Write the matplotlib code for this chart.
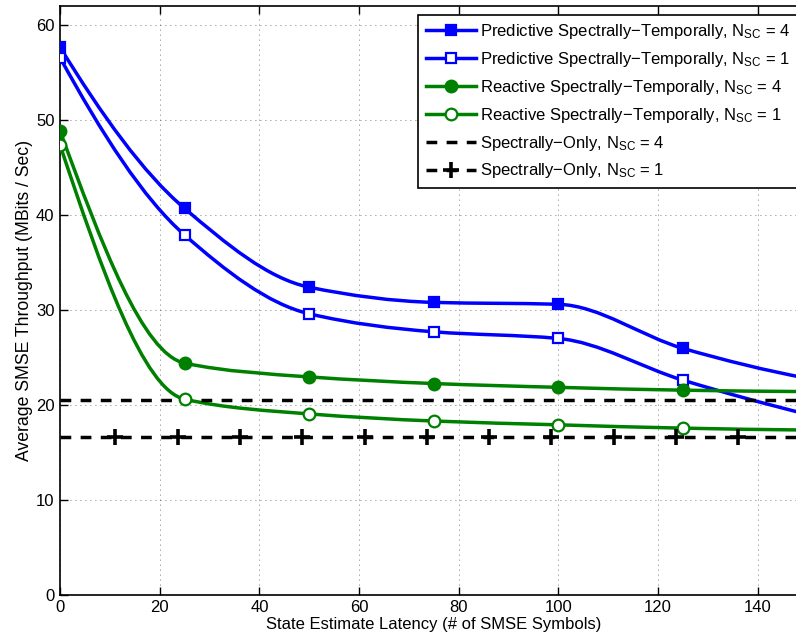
import numpy as np
import matplotlib
matplotlib.use("Agg")
import matplotlib.pyplot as plt
from matplotlib.path import Path
from matplotlib.patches import PathPatch
from matplotlib.lines import Line2D

# data
latency = [0, 25, 50, 75, 100, 125, 150]
pred_nsc4 = [57.7, 40.7, 32.4, 30.8, 30.6, 25.95, 22.8]
pred_nsc1 = [56.6, 37.9, 29.6, 27.7, 27.0, 22.6, 19.0]
react_nsc4 = [48.9, 24.4, 22.95, 22.25, 21.85, 21.55, 21.4]
react_nsc1 = [47.4, 20.6, 19.05, 18.3, 17.9, 17.55, 17.35]
spec_x = [0, 150]
spec_nsc4 = 20.5
spec_nsc1 = 16.6
plus_x = [11.1, 23.6, 36.1, 48.6, 61.1, 73.6, 86.1, 98.6, 111.1, 123.6, 136.1]

labels = ['Predictive Spectrally\u2212Temporally, N$_{\\mathrm{SC}}$ = 4',
          'Predictive Spectrally\u2212Temporally, N$_{\\mathrm{SC}}$ = 1',
          'Reactive Spectrally\u2212Temporally, N$_{\\mathrm{SC}}$ = 4',
          'Reactive Spectrally\u2212Temporally, N$_{\\mathrm{SC}}$ = 1',
          'Spectrally\u2212Only, N$_{\\mathrm{SC}}$ = 4',
          'Spectrally\u2212Only, N$_{\\mathrm{SC}}$ = 1']

plt.rcParams['font.family'] = ['Liberation Sans', 'DejaVu Sans']
plt.rcParams['mathtext.fontset'] = 'custom'
plt.rcParams['mathtext.rm'] = 'Liberation Sans'
plt.rcParams['mathtext.it'] = 'Liberation Sans:italic'
plt.rcParams['mathtext.bf'] = 'Liberation Sans:bold'

BLUE = (0, 0, 1)
GREEN = (0, 0.5, 0)
LW = 2.5
DASH = (0, (3.1, 2.7))


def pchip_slopes(x, y):
    x = np.asarray(x, float)
    y = np.asarray(y, float)
    h = np.diff(x)
    d = np.diff(y) / h
    m = np.zeros_like(y)
    for k in range(1, len(x) - 1):
        if d[k-1] * d[k] > 0:
            w1 = 2*h[k] + h[k-1]
            w2 = h[k] + 2*h[k-1]
            m[k] = (w1 + w2) / (w1/d[k-1] + w2/d[k])

    def end(h0, h1, d0, d1):
        mm = ((2*h0 + h1)*d0 - h0*d1) / (h0 + h1)
        if np.sign(mm) != np.sign(d0):
            mm = 0.0
        elif np.sign(d0) != np.sign(d1) and abs(mm) > abs(3*d0):
            mm = 3*d0
        return mm
    m[0] = end(h[0], h[1], d[0], d[1])
    m[-1] = end(h[-1], h[-2], d[-1], d[-2])
    return m


def smooth_path(x, y):
    # shape-preserving cubic drawn as bezier segments
    m = pchip_slopes(x, y)
    verts = [(x[0], y[0])]
    codes = [Path.MOVETO]
    for k in range(len(x) - 1):
        h = x[k+1] - x[k]
        verts += [(x[k] + h/3, y[k] + m[k]*h/3),
                  (x[k+1] - h/3, y[k+1] - m[k+1]*h/3),
                  (x[k+1], y[k+1])]
        codes += [Path.CURVE4] * 3
    return Path(verts, codes)


fig = plt.figure(figsize=(7.96, 6.44), dpi=100)
ax = fig.add_axes([60/796, (644-594.7)/644, 747.7/796, 588.4/644])

series = [
    (pred_nsc4, BLUE, 's', BLUE, 7.0),
    (pred_nsc1, BLUE, 's', 'white', 7.0),
    (react_nsc4, GREEN, 'o', GREEN, 8.4),
    (react_nsc1, GREEN, 'o', 'white', 8.4),
]
handles = []
for vals, col, mk, face, ms in series:
    ax.add_patch(PathPatch(smooth_path(latency, vals), fill=False,
                           edgecolor=col, lw=LW, zorder=3, capstyle='round'))
    ax.plot(latency, vals, ls='none', marker=mk, ms=ms, mfc=face, mec=col,
            mew=1.6, zorder=4)
    handles.append(Line2D([], [], color=col, lw=LW, marker=mk, ms=ms,
                          mfc=face, mec=col, mew=1.6))

ax.plot(spec_x, np.full(len(spec_x), spec_nsc4), color='k', lw=LW,
        linestyle=DASH, zorder=3)
handles.append(Line2D([], [], color='k', lw=LW, linestyle=DASH))
ax.plot(spec_x, np.full(len(spec_x), spec_nsc1), color='k', lw=LW,
        linestyle=DASH, zorder=3)
ax.plot(plus_x, np.full(len(plus_x), spec_nsc1), ls='none', marker='+',
        ms=11, mew=2.6, color='k', zorder=4)
handles.append(Line2D([], [], color='k', lw=LW, linestyle=DASH,
                      marker='+', ms=11, mew=2.6))

ax.set_xlim(0, 150)
ax.set_ylim(0, 62)
ax.set_xticks(range(0, 141, 20))
ax.set_yticks(range(0, 61, 10))
ax.grid(True, linestyle=(0, (1, 5)), color='k', linewidth=0.6, alpha=0.7)
ax.tick_params(direction='in', length=5.8, width=1.0, top=True, right=True,
               labelsize=12, pad=4)
for sp in ax.spines.values():
    sp.set_linewidth(1.2)

ax.set_xlabel('State Estimate Latency (# of SMSE Symbols)', fontsize=12, labelpad=1)
ax.set_ylabel('Average SMSE Throughput (MBits / Sec)', fontsize=12.7, labelpad=2)

leg = ax.legend(handles, labels, loc='upper left',
                bbox_to_anchor=(418/796, 1 - 14.7/644),
                bbox_transform=fig.transFigure, borderaxespad=0,
                fontsize=12, handlelength=3.0, handletextpad=0.3,
                labelspacing=0.53, borderpad=0.45, fancybox=False,
                framealpha=1, edgecolor='k', numpoints=1)
leg.get_frame().set_linewidth(1.2)

fig.savefig('out.png', dpi=100)
